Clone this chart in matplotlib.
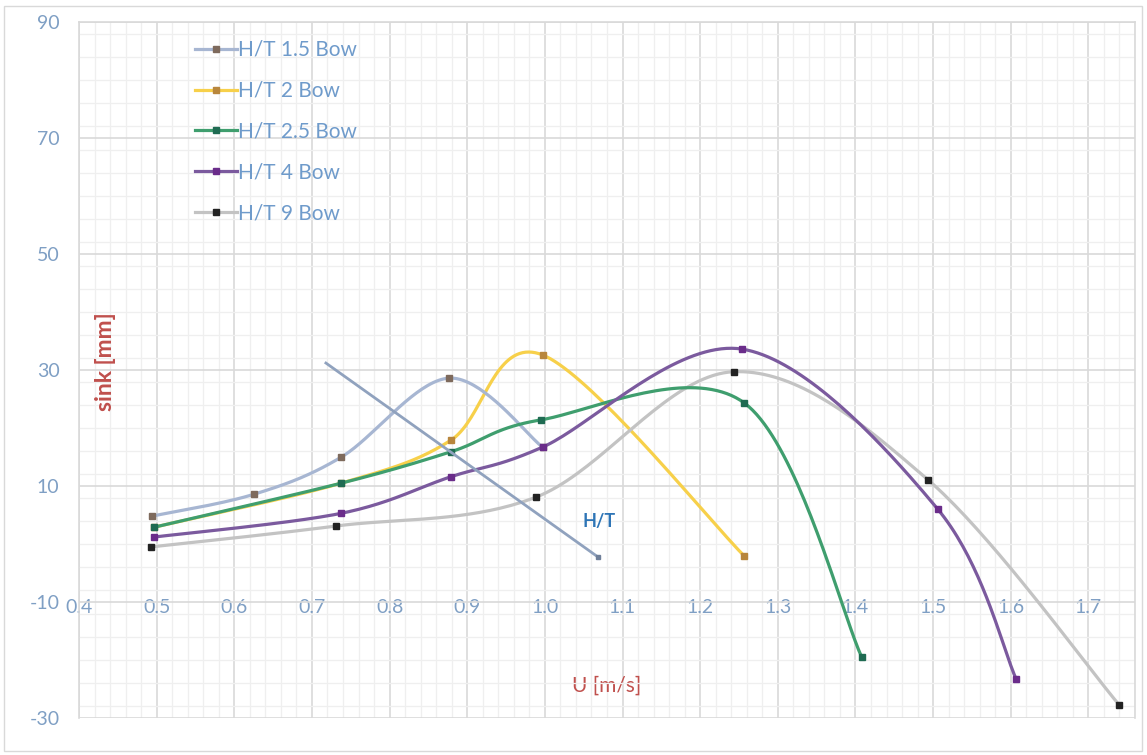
import numpy as np
import matplotlib
matplotlib.use("Agg")
import matplotlib.pyplot as plt
from matplotlib.ticker import MultipleLocator
from matplotlib.patches import Rectangle

plt.rcParams['font.family'] = ['Lato', 'DejaVu Sans']

# Measured sinkage at the bow for several depth/draught ratios
u_15 = [0.494, 0.626, 0.738, 0.877, 0.997]
s_15 = [4.8, 8.6, 15.0, 28.6, 16.7]

u_2 = [0.497, 0.738, 0.879, 0.997, 1.257]
s_2 = [2.9, 10.5, 17.9, 32.6, -2.1]

u_25 = [0.497, 0.738, 0.879, 0.995, 1.257, 1.408]
s_25 = [2.9, 10.5, 15.9, 21.4, 24.3, -19.5]

u_4 = [0.497, 0.738, 0.879, 0.997, 1.254, 1.506, 1.607]
s_4 = [1.2, 5.3, 11.6, 16.7, 33.6, 6.0, -23.3]

u_9 = [0.493, 0.731, 0.989, 1.243, 1.494, 1.740]
s_9 = [-0.5, 3.1, 8.1, 29.7, 11.0, -27.8]

# Trend of the peaks with increasing H/T
u_trend = [0.718, 1.068]
s_trend = [31.2, -2.2]

labels = ["H/T 1.5 Bow", "H/T 2 Bow", "H/T 2.5 Bow", "H/T 4 Bow", "H/T 9 Bow"]
x_ticks = [0.4, 0.5, 0.6, 0.7, 0.8, 0.9, 1.0, 1.1, 1.2, 1.3, 1.4, 1.5, 1.6, 1.7]
y_ticks = [-30, -10, 10, 30, 50, 70, 90]


def smooth(x, y, n=40):
    """Bezier smoothing through the points (spreadsheet style smoothed line)."""
    pts = np.column_stack([x, y]).astype(float)
    ext = np.vstack([pts[0], pts, pts[-1]])
    out = []
    t = np.linspace(0, 1, n)[:, None]
    for i in range(len(pts) - 1):
        p0, p1, p2, p3 = ext[i], ext[i + 1], ext[i + 2], ext[i + 3]
        c1 = p1 + (p2 - p0) / 6.0
        c2 = p2 - (p3 - p1) / 6.0
        seg = ((1 - t) ** 3) * p1 + 3 * ((1 - t) ** 2) * t * c1 \
            + 3 * (1 - t) * t ** 2 * c2 + t ** 3 * p2
        out.append(seg if i == 0 else seg[1:])
    c = np.vstack(out)
    return c[:, 0], c[:, 1]


W, H = 1147, 755
fig = plt.figure(figsize=(W / 100, H / 100), dpi=100)
fig.patch.set_facecolor("white")
fig.patches.append(Rectangle((4 / W, 4 / H), 1 - 9 / W, 1 - 10 / H,
                             transform=fig.transFigure, fill=False,
                             edgecolor="#D9D9D9", lw=1.0))

left, right, top, bottom = 79, 1135, 22, 718
ax = fig.add_axes([left / W, 1 - bottom / H, (right - left) / W, (bottom - top) / H])
ax.set_xlim(0.4, 1.76)
ax.set_ylim(-30, 90)

grid_major = "#D9D9D9"
grid_minor = "#EFEFEF"
ax.xaxis.set_minor_locator(MultipleLocator(0.02))
ax.yaxis.set_minor_locator(MultipleLocator(4))
ax.set_xticks(x_ticks)
ax.set_yticks(y_ticks)
ax.grid(which="major", color=grid_major, lw=1.2)
ax.grid(which="minor", color=grid_minor, lw=0.9)
ax.set_axisbelow(True)

for sp in ax.spines.values():
    sp.set_color(grid_major)
    sp.set_linewidth(1.2)
ax.spines["bottom"].set_position(("data", -10))
ax.spines["bottom"].set_visible(False)

tick_color = "#7F9FC4"
ax.tick_params(axis="x", which="both", length=0, pad=-2, labelsize=14, labelcolor=tick_color)
ax.tick_params(axis="y", which="both", length=0, pad=14, labelsize=14, labelcolor=tick_color)
ax.set_xticklabels([f"{v:.1f}" for v in x_ticks])
ax.set_yticklabels([str(v) for v in y_ticks])

series = [
    (u_15, s_15, "#A7B6D2", "#7E6A5C"),
    (u_2, s_2, "#F7D04A", "#B8863C"),
    (u_25, s_25, "#3F9E6E", "#1F6B52"),
    (u_4, s_4, "#7B5A9E", "#6A2C8A"),
    (u_9, s_9, "#C3C3C3", "#222222"),
]
zorders = [3, 2, 4, 5, 3]
for (u, s, lc, mc), lab, z in zip(series, labels, zorders):
    xs, ys = smooth(u, s)
    ax.plot(xs, ys, color=lc, lw=2.3, zorder=z, solid_capstyle="round")
    ax.plot(u, s, ls="none", marker="s", ms=4.5, color=mc, zorder=z + 0.5)
    ax.plot([], [], color=lc, lw=2.3, marker="s", ms=4.5, mfc=mc, mec=mc, label=lab)

ax.plot(u_trend, s_trend, color="#90A2BE", lw=2.0, zorder=6,
        marker="s", ms=3.5, mfc="#6F7F99", mec="#6F7F99", markevery=[1])
ax.text(1.07, 3.8, "H/T", color="#2E75B6", fontsize=13, fontweight="bold",
        ha="center", va="center", zorder=7)

ax.set_xlabel("U [m/s]", color="#C0504D", fontsize=15)
ax.xaxis.set_label_coords((607 - left) / (right - left), (bottom - 676) / (bottom - top))
ax.set_ylabel("sink [mm]", color="#C0504D", fontsize=16.5, fontweight="bold")
ax.yaxis.set_label_coords((116 - left) / (right - left), (bottom - 362) / (bottom - top))

leg = ax.legend(loc="upper left", bbox_to_anchor=((195 - left) / (right - left), (bottom - 40) / (bottom - top)),
                frameon=False, fontsize=15, labelspacing=1.0, handlelength=2.0,
                handletextpad=0.05, borderpad=0, borderaxespad=0)
for t in leg.get_texts():
    t.set_color("#6F9BCB")

fig.savefig("out.png", dpi=100, facecolor="white")
